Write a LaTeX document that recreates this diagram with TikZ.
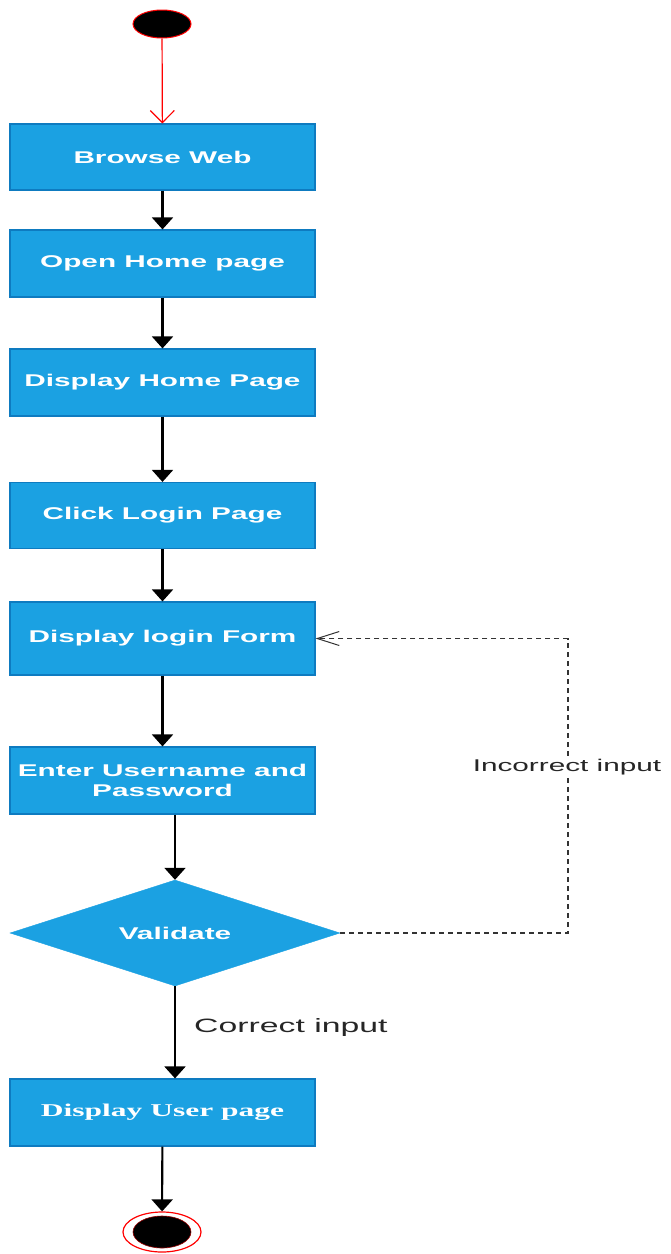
\documentclass[tikz,border=0pt]{standalone}
\usepackage{fontspec}
\usetikzlibrary{shapes.geometric,arrows.meta}
\newfontfamily\boxfont[FakeStretch=1.75]{Liberation Sans}
\newfontfamily\boxserif[FakeStretch=1.75]{Liberation Serif}
\definecolor{actfill}{HTML}{1BA1E2}
\definecolor{actline}{HTML}{0E7BC0}
\begin{document}
\begin{tikzpicture}[x=1pt,y=-1pt,
  actbox/.style={rectangle,draw=actline,fill=actfill,line width=1.2pt,
    minimum width=305pt,inner sep=2pt,text=white,align=center,
    font=\boxfont\bfseries\fontsize{17}{20}\selectfont},
  flow/.style={draw=black,line width=2.1pt,-{Triangle[width=21pt,length=12pt]}},
  lbl/.style={text=black!85,font=\boxfont\fontsize{17}{20}\selectfont,inner sep=1pt}]
\useasboundingbox (0,0) rectangle (670,1254);

\node[ellipse,draw=red,fill=black,line width=1pt,minimum width=58pt,minimum height=28pt,inner sep=0pt] (start) at (162,24) {};

\node[actbox,minimum height=66pt] (b1) at (162.5,157) {Browse Web};
\node[actbox,minimum height=67pt] (b2) at (162.5,263.5) {Open Home page};
\node[actbox,minimum height=67pt] (b3) at (162.5,382.5) {Display Home Page};
\node[actbox,minimum height=66pt] (b4) at (162.5,515.5) {Click Login Page};
\node[actbox,minimum height=73pt] (b5) at (162.5,638.5) {Display login Form};
\node[actbox,minimum height=67pt] (b6) at (162.5,780.5) {Enter Username and\\Password};
\node[diamond,fill=actfill,draw=actfill,minimum width=330pt,minimum height=106pt,aspect=3.1,inner sep=0pt,text=white,
  font=\boxfont\bfseries\fontsize{17}{20}\selectfont] (dia) at (175,933) {Validate};
\node[actbox,minimum height=67pt,font=\boxserif\bfseries\fontsize{18}{20}\selectfont] (b7) at (162.5,1112.5) {Display User page};

\node[ellipse,draw=red,fill=white,line width=1.2pt,minimum width=78pt,minimum height=40pt,inner sep=0pt] (endo) at (162,1232) {};
\node[ellipse,draw=red!60!black,fill=black,line width=0.6pt,minimum width=58pt,minimum height=32pt,inner sep=0pt] (endi) at (162,1232) {};

\draw[draw=red,line width=1.2pt,-{Straight Barb[width=24pt,length=12pt,line width=1.2pt]}] (start) -- (b1);
\draw[flow] (b1) -- (b2);
\draw[flow] (b2) -- (b3);
\draw[flow] (b3) -- (b4);
\draw[flow] (b4) -- (b5);
\draw[flow] (b5) -- (b6);
\draw[flow] (b6.south -| dia.north) -- (dia.north);
\draw[flow] (dia.south) -- (b7.north -| dia.south);
\draw[flow] (b7) -- (endo);

\coordinate (loop) at (568,933);
\draw[black!80,line width=1.3pt,dash pattern=on 5pt off 4pt,-{Straight Barb[width=14pt,length=22pt,line width=1pt]}] (dia.east) -- (loop) |- (b5.east);
\node[lbl,fill=white,font=\boxfont\fontsize{17}{20}\selectfont] (inc) at (567,767) {Incorrect input};
\node[lbl,anchor=west,font=\boxfont\fontsize{19.3}{22}\selectfont] (cor) at (193,1027) {Correct input};
\end{tikzpicture}
\end{document}
